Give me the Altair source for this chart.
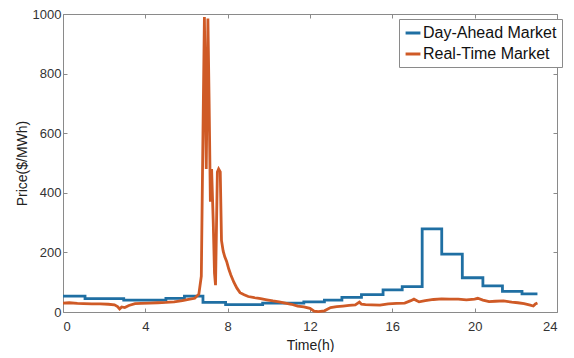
import altair as alt
import pandas as pd

series_names = ["Day-Ahead Market", "Real-Time Market"]
series_colors = ["#1f6fa3", "#cf5a26"]

# Day-ahead market: step changes (time in h, price in $/MWh)
da_time = [0, 1.07, 2.95, 5.0, 5.9, 6.8, 7.9, 9.7, 11.7, 12.7, 13.55, 14.5,
           15.55, 16.48, 17.45, 18.4, 19.4, 20.4, 21.35, 22.3, 23.05]
da_price = [53, 45, 40, 46, 53, 32, 25, 30, 34, 40, 49, 58,
            74, 85, 279, 194, 115, 88, 69, 61, 61]

# Real-time market
rt_time = [0, 0.3, 0.7, 1.0, 1.4, 1.8, 2.2, 2.5, 2.65, 2.75, 2.85, 3.0, 3.2,
           3.5, 3.8, 4.2, 4.6, 5.0, 5.4, 5.8, 6.1, 6.4, 6.6, 6.72, 6.8, 6.87,
           6.92, 6.96, 7.04, 7.1, 7.16, 7.22, 7.3, 7.36, 7.41, 7.5, 7.56, 7.64,
           7.7, 7.78, 7.86, 7.95, 8.05, 8.15, 8.3, 8.45, 8.6, 8.8, 9.0, 9.3,
           9.6, 9.9, 10.2, 10.5, 10.8, 11.1, 11.4, 11.7, 12.0, 12.2, 12.4,
           12.7, 13.0, 13.3, 13.6, 13.9, 14.2, 14.4, 14.5, 14.7, 15.0, 15.4,
           15.8, 16.2, 16.6, 16.9, 17.05, 17.3, 17.6, 18.0, 18.4, 18.8, 19.2,
           19.6, 20.0, 20.15, 20.4, 20.7, 21.0, 21.4, 21.8, 22.1, 22.4, 22.7,
           22.85, 22.95, 23.05]
rt_price = [30, 31, 29, 28, 27, 27, 26, 24, 18, 10, 17, 15, 22,
            28, 29, 30, 31, 32, 34, 38, 42, 46, 60, 120, 600, 990,
            700, 480, 985, 700, 370, 480, 300, 130, 90, 470, 480, 470,
            240, 205, 185, 170, 145, 125, 100, 80, 65, 58, 52, 48,
            45, 41, 37, 34, 30, 26, 20, 17, 12, 3, 1,
            4, 15, 18, 20, 22, 24, 33, 26, 25, 24, 23,
            27, 29, 30, 38, 43, 34, 38, 42, 44, 43, 43,
            41, 43, 46, 40, 35, 36, 37, 33, 31, 28, 23,
            20, 27, 30]

x_ticks = [0, 4, 8, 12, 16, 20, 24]
y_ticks = [0, 200, 400, 600, 800, 1000]

da_df = pd.DataFrame({"t": da_time, "p": da_price, "s": series_names[0]})
rt_df = pd.DataFrame({"t": rt_time, "p": rt_price, "s": series_names[1]})

FONT = "Liberation Sans"
x_scale = alt.Scale(domain=[0, 24], nice=False, zero=False)
y_scale = alt.Scale(domain=[0, 1000], nice=False)
color = alt.Color(
    "s:N",
    scale=alt.Scale(domain=series_names, range=series_colors),
    legend=alt.Legend(
        title=None, orient="none", legendX=336, legendY=5,
        symbolType="stroke", symbolStrokeWidth=3, symbolSize=220,
        labelFontSize=16, labelFont=FONT, labelColor="#111",
        strokeColor="#8a8a8a", fillColor="white", padding=5,
        labelOffset=1, rowPadding=4,
    ),
)

tick_style = dict(offset=-4, tickSize=4, tickColor="#8a8a8a", domain=False,
                  grid=False, labelFont=FONT, labelFontSize=13,
                  labelColor="#333", titleFont=FONT, titleFontSize=14,
                  titleColor="#222", titleFontWeight="normal", format="d")

da_layer = alt.Chart(da_df).mark_line(interpolate="step-after", strokeWidth=2.8).encode(
    x=alt.X("t:Q", scale=x_scale,
            axis=alt.Axis(orient="bottom", values=x_ticks, title="Time(h)",
                          labelPadding=8, titlePadding=5, **tick_style)),
    y=alt.Y("p:Q", scale=y_scale,
            axis=alt.Axis(orient="left", values=y_ticks, title="Price($/MWh)",
                          labelPadding=2, titlePadding=3, **tick_style)),
    color=color,
)

rt_layer = alt.Chart(rt_df).mark_line(strokeWidth=2.8).encode(
    x=alt.X("t:Q", scale=x_scale,
            axis=alt.Axis(orient="top", values=x_ticks, title=None, labels=False,
                          **tick_style)),
    y=alt.Y("p:Q", scale=y_scale,
            axis=alt.Axis(orient="right", values=y_ticks, title=None, labels=False,
                          **tick_style)),
    color=color,
)

chart = alt.layer(da_layer, rt_layer).resolve_axis(
    x="independent", y="independent"
).properties(
    width=494, height=298,
    autosize=alt.AutoSizeParams(type="none"),
    padding={"left": 55, "top": 6, "right": 9, "bottom": 40},
    background="white",
).configure_view(stroke="#8a8a8a", strokeWidth=1)

chart.save("out.html", embed_options={"renderer": "svg", "actions": False})
